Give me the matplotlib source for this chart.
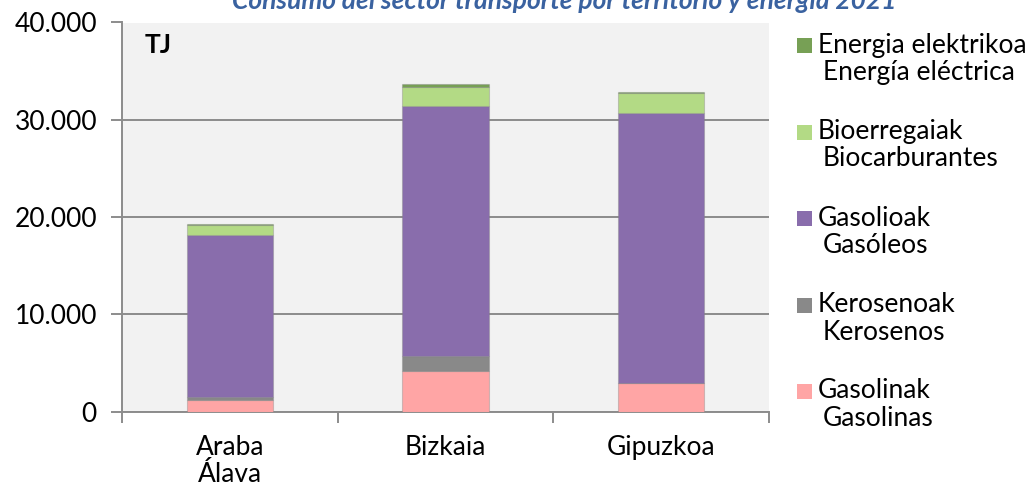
import matplotlib
matplotlib.use("Agg")
import matplotlib.pyplot as plt
from matplotlib.ticker import FuncFormatter, MultipleLocator
from matplotlib.patches import Rectangle

plt.rcParams['font.family'] = ['Lato', 'DejaVu Sans']

territories = ["Araba\nÁlava", "Bizkaia", "Gipuzkoa"]

gasolinak = [1200, 4210, 2880]
kerosenoak = [270, 1470, 20]
gasolioak = [16720, 25730, 27750]
bioerregaiak = [1030, 1910, 2130]
elektrikoa = [60, 400, 70]

series = [
    ("Gasolinak", "Gasolinas", gasolinak, "#FFA5A5"),
    ("Kerosenoak", "Kerosenos", kerosenoak, "#898989"),
    ("Gasolioak", "Gasóleos", gasolioak, "#896DAC"),
    ("Bioerregaiak", "Biocarburantes", bioerregaiak, "#B3DA85"),
    ("Energia elektrikoa", "Energía eléctrica", elektrikoa, "#77A055"),
]

W, H = 1035, 488
fig = plt.figure(figsize=(W / 100, H / 100), dpi=100)
ax = fig.add_axes([122 / W, 1 - 411.5 / H, (769 - 122) / W, (411.5 - 22.5) / H])
ax.set_facecolor("#F2F2F2")

x = list(range(len(territories)))
bottom = [0] * len(territories)
for eu, es, vals, color in series:
    ax.bar(x, vals, width=0.4, bottom=bottom, color=color,
           edgecolor=(0.5, 0.5, 0.5, 0.35), linewidth=0.8, zorder=3)
    bottom = [b + v for b, v in zip(bottom, vals)]

ax.set_xlim(-0.5, len(territories) - 0.5)
ax.set_ylim(0, 40000)
ax.yaxis.set_major_locator(MultipleLocator(10000))
ax.yaxis.set_major_formatter(FuncFormatter(lambda v, p: f"{int(v):,}".replace(",", ".")))
ax.grid(axis="y", color="#8C8C8C", linewidth=1.4, zorder=1)
ax.set_axisbelow(True)

ax.set_xticks([i - 0.5 for i in range(len(territories) + 1)])
ax.set_xticklabels([])
ax.set_xticks(x, minor=True)
ax.set_xticklabels(territories, minor=True, fontsize=19, linespacing=1.1)
ax.tick_params(axis="x", which="major", length=8, width=1.4, color="#8C8C8C", direction="out")
ax.tick_params(axis="x", which="minor", length=0, pad=17)
ax.tick_params(axis="y", length=8, width=1.4, color="#8C8C8C", labelsize=19, pad=10)

for side in ["top", "right"]:
    ax.spines[side].set_visible(False)
for side in ["left", "bottom"]:
    ax.spines[side].set_color("#8C8C8C")
    ax.spines[side].set_linewidth(1.4)

fig.text(145 / W, 1 - 45 / H, "TJ", fontsize=19, fontweight="bold", va="center", ha="left")

fig.text(564 / W, 1 - 1 / H, "Consumo del sector transporte por territorio y energía 2021",
         ha="center", va="center", fontsize=19, fontweight="bold", fontstyle="italic",
         color="#3A62A0")

# Legend drawn entry by entry: square key beside a two-line label
for i, (eu, es, vals, color) in enumerate(reversed(series)):
    yc = 45 + 86.5 * i
    fig.patches.append(Rectangle((797 / W, 1 - (yc + 8) / H), 15 / W, 15 / H,
                                 transform=fig.transFigure, facecolor=color,
                                 edgecolor="none"))
    fig.text(818 / W, 1 - yc / H, eu, fontsize=19, va="center", ha="left")
    fig.text(823 / W, 1 - (yc + 27.5) / H, es, fontsize=19, va="center", ha="left")

fig.savefig("out.png", dpi=100)
